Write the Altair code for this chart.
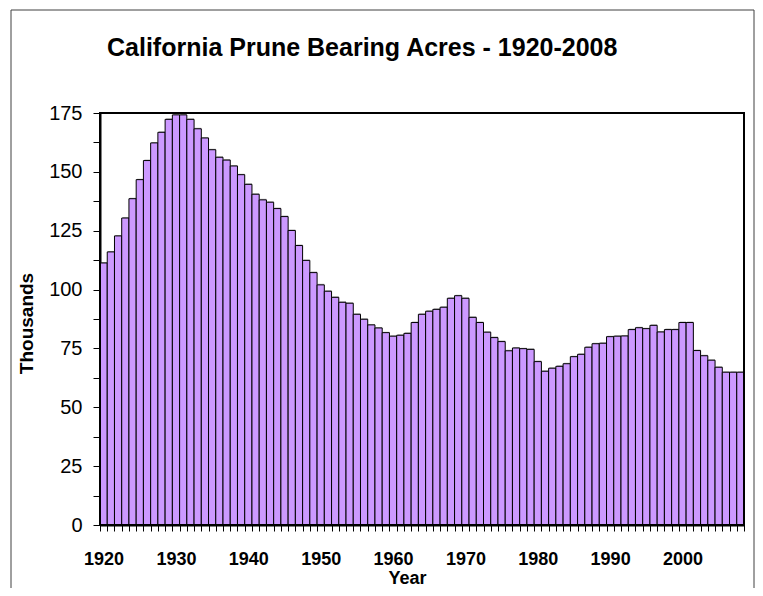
import altair as alt
import pandas as pd

# ---- data (thousands of bearing acres) ----
years = list(range(1920, 2009))
acres = [
    111.3, 116.0, 122.8, 130.4, 138.6, 146.7, 154.8, 162.3, 166.8, 172.3,  # 1920-1929
    174.2, 174.2, 172.3, 168.3, 164.4, 159.4, 156.2, 155.0, 152.5, 148.8,  # 1930-1939
    144.7, 140.5, 138.1, 137.1, 134.4, 131.0, 125.1, 118.7, 112.4, 107.2,  # 1940-1949
    102.0, 99.3, 96.7, 94.6, 94.2, 89.5, 87.4, 85.0, 83.7, 81.7,           # 1950-1959
    80.2, 80.6, 81.4, 86.0, 89.5, 90.8, 91.6, 92.5, 96.3, 97.4,            # 1960-1969
    96.3, 88.2, 86.0, 81.9, 79.6, 77.9, 74.0, 75.2, 74.9, 74.6,            # 1970-1979
    69.4, 65.3, 66.6, 67.4, 68.5, 71.5, 72.5, 75.5, 77.0, 77.2,            # 1980-1989
    80.0, 80.2, 80.3, 83.0, 83.8, 83.4, 84.8, 82.0, 83.0, 83.0,            # 1990-1999
    86.0, 86.0, 74.1, 71.9, 70.0, 67.0, 64.9, 64.9, 64.9,                  # 2000-2008
]
y_ticks = [0, 12.5, 25, 37.5, 50, 62.5, 75, 87.5, 100, 112.5, 125, 137.5, 150, 162.5, 175]
x_ticks = list(range(1920, 2010))

df = pd.DataFrame({"Year": years, "Acres": acres})

FONT = "Liberation Sans"
W, H = 644, 412

x_scale = alt.Scale(domain=[1920, 2009], nice=False, zero=False)
y_scale = alt.Scale(domain=[0, 175], nice=False)

x_axis = alt.Axis(
    title="Year", values=x_ticks, format="d",
    labelExpr="datum.value % 10 == 0 && datum.value < 2009 ? datum.label : ''",
    labelOffset=3.6, labelOverlap=False, labelFlush=False, labelBound=False,
    labelFont=FONT, labelFontSize=18, labelFontWeight="bold", labelColor="black",
    labelPadding=19, tickSize=6, tickColor="black", tickWidth=1,
    domainColor="black", domainWidth=2, grid=False,
    titleFont=FONT, titleFontSize=18, titleFontWeight="bold", titleColor="black",
    titleX=307, titleY=58, titleBaseline="alphabetic", titleAlign="center",
)
y_axis = alt.Axis(
    title="Thousands", values=y_ticks, format="d",
    labelExpr="datum.value % 25 == 0 ? datum.label : ''",
    labelFont=FONT, labelFontSize=20, labelColor="black", labelPadding=11,
    tickSize=7, tickColor="black", tickWidth=1,
    domainColor="black", domainWidth=2, grid=False,
    titleFont=FONT, titleFontSize=19, titleFontWeight="bold", titleColor="black",
    titleAngle=270, titleX=-68, titleY=210, titleBaseline="alphabetic", titleAlign="center",
)

base = alt.Chart(df).transform_calculate(YearEnd="datum.Year + 1", Zero="0")

shadow = base.mark_rect(color="#7a7a7a", opacity=0.55, xOffset=1, yOffset=-1).encode(
    x=alt.X("Year:Q", scale=x_scale, axis=x_axis),
    x2="YearEnd:Q",
    y=alt.Y("Acres:Q", scale=y_scale, axis=y_axis),
    y2="Zero:Q",
)

bars = base.mark_rect(color="#CC99FF", stroke="black", strokeWidth=1).encode(
    x=alt.X("Year:Q", scale=x_scale, axis=x_axis),
    x2="YearEnd:Q",
    y=alt.Y("Acres:Q", scale=y_scale, axis=y_axis),
    y2="Zero:Q",
    tooltip=["Year:Q", "Acres:Q"],
)

one = pd.DataFrame({"f": [0]})

# outer chart-area border
frame = alt.Chart(one).mark_rect(
    fillOpacity=0, stroke="#404040", strokeWidth=1
).encode(
    x=alt.value(-89), x2=alt.value(654), y=alt.value(-103), y2=alt.value(600)
)

# plot-area border (top and right edges in black)
plot_box = alt.Chart(one).mark_rect(
    fillOpacity=0, stroke="black", strokeWidth=2
).encode(
    x=alt.value(0), x2=alt.value(W), y=alt.value(0), y2=alt.value(H)
)

chart = alt.layer(frame, shadow, bars, plot_box).properties(
    width=W, height=H,
    title=alt.TitleParams(
        "California Prune Bearing Acres - 1920-2008",
        font=FONT, fontSize=25, fontWeight="bold", color="black",
        anchor="start", frame="group", dx=7, offset=-71, baseline="alphabetic",
    ),
    autosize=alt.AutoSizeParams(type="none"),
    padding={"left": 92, "top": 105, "right": 11, "bottom": 63},
).configure_view(
    stroke="black", strokeWidth=2
).configure(background="white")

chart.save("out.html", embed_options={"renderer": "svg", "actions": False})
